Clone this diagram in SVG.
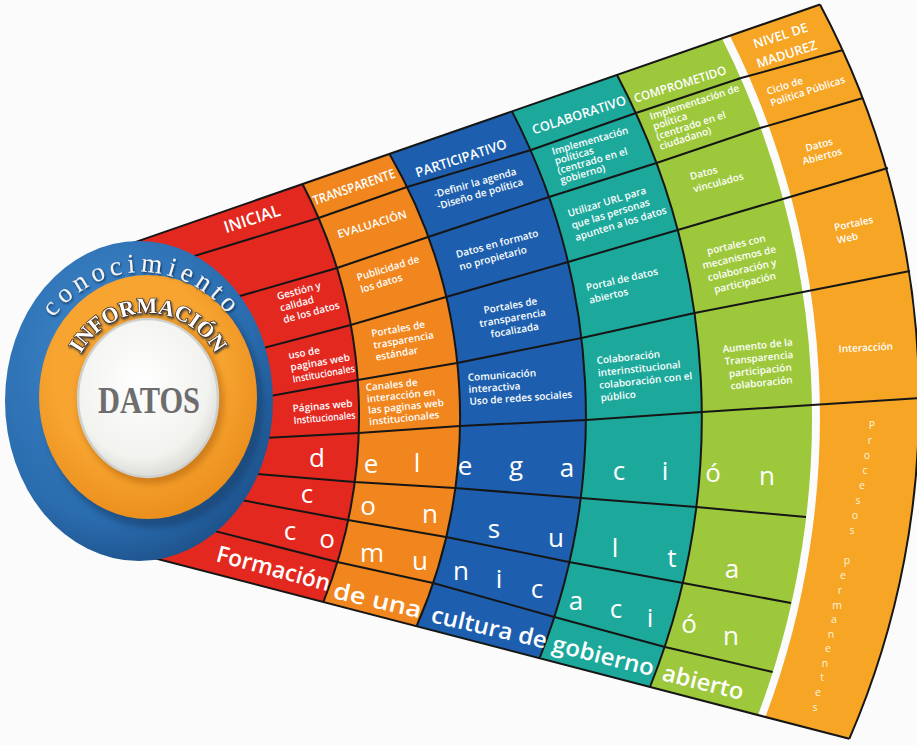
<svg xmlns="http://www.w3.org/2000/svg" width="917" height="745" viewBox="0 0 917 745">
<defs>
<style>
.ln{fill:none;stroke:#161616;stroke-width:2;stroke-linejoin:round}
.c{font-family:"Open Sans","Liberation Sans",sans-serif;font-weight:600;fill:#fff;font-size:10px}
.h{font-family:"Open Sans","Liberation Sans",sans-serif;font-weight:600;fill:#fff;text-anchor:middle}
.big{font-family:"Open Sans","Liberation Sans",sans-serif;font-weight:400;fill:#fff;font-size:26px;text-anchor:middle}
.form{font-family:"Open Sans","Liberation Sans",sans-serif;font-weight:600;fill:#fff;font-size:23px}
.pp{font-family:"Open Sans","Liberation Sans",sans-serif;font-weight:400;fill:#fff3dd;font-size:10.5px;text-anchor:middle}
.m{text-anchor:middle}
</style>
<radialGradient id="gBlue" cx="40%" cy="35%" r="70%"><stop offset="0" stop-color="#3f88cc"/><stop offset="0.75" stop-color="#2a6cae"/><stop offset="1" stop-color="#1c4f88"/></radialGradient>
<radialGradient id="gOr" cx="45%" cy="40%" r="65%"><stop offset="0.6" stop-color="#f7a431"/><stop offset="1" stop-color="#e88a18"/></radialGradient>
<radialGradient id="gWh" cx="45%" cy="40%" r="60%"><stop offset="0" stop-color="#ffffff"/><stop offset="0.8" stop-color="#f2f2ef"/><stop offset="1" stop-color="#dcdcd8"/></radialGradient>
<filter id="blur" x="-20%" y="-20%" width="140%" height="140%"><feGaussianBlur stdDeviation="3"/></filter>
<filter id="sh" x="-10%" y="-10%" width="120%" height="130%"><feDropShadow dx="1" dy="1.5" stdDeviation="0.8" flood-color="#0b2540" flood-opacity="0.85"/></filter>
<path id="arcK" d="M 26,401 A 116 129 0 0 1 258,401"/>
<path id="arcI" d="M 69,398 A 79 85 0 0 1 227,398"/>
</defs>
<rect width="917" height="745" fill="#fbfbfb"/>

<g id="col-inicial">
<path d="M120,247.4 L302.5,184 A504,504 0 0 1 323.4,602 L120,549.2 Z" fill="#e3281f"/>
<text class="h" font-size="16.5" transform="translate(252,219) rotate(-18)" y="5.5">INICIAL</text>
<text class="c" transform="translate(278,300) rotate(-15)"><tspan x="0" y="0">Gestión y</tspan><tspan x="0" dy="12">calidad</tspan><tspan x="0" dy="12">de los datos</tspan></text>
<text class="c" font-size="9" transform="translate(289,359) rotate(-10)"><tspan x="0" y="0">uso de</tspan><tspan x="0" dy="12">paginas web</tspan><tspan x="0" dy="12" textLength="63" lengthAdjust="spacingAndGlyphs">Institucionales</tspan></text>
<text class="c" font-size="9" transform="translate(293,412) rotate(-5)"><tspan x="0" y="0">Páginas web</tspan><tspan x="0" dy="12" textLength="62" lengthAdjust="spacingAndGlyphs">Institucionales</tspan></text>
</g>

<g id="col-transparente">
<path d="M302.5,184 L389.5,154 A525,525 0 0 1 416.5,626.3 L323.4,602 A504,504 0 0 0 302.5,184 Z" fill="#f0861d"/>
<text class="h" font-size="13" transform="translate(354,187) rotate(-19)" y="4.5" textLength="86" lengthAdjust="spacingAndGlyphs">TRANSPARENTE</text>
<text class="h" font-size="11" transform="translate(372,224) rotate(-17)" y="4" textLength="72" lengthAdjust="spacingAndGlyphs">EVALUACIÓN</text>
<text class="c" transform="translate(358,281) rotate(-17)"><tspan x="0" y="0">Publicidad de</tspan><tspan x="0" dy="12.5">los datos</tspan></text>
<text class="c" transform="translate(372,337) rotate(-10)"><tspan x="0" y="0">Portales de</tspan><tspan x="0" dy="12">trasparencia</tspan><tspan x="0" dy="12">estándar</tspan></text>
<text class="c" font-size="9" transform="translate(366,391) rotate(-6)"><tspan x="0" y="0">Canales de</tspan><tspan x="0" dy="11.5">interacción en</tspan><tspan x="0" dy="11.5">las paginas web</tspan><tspan x="0" dy="11.5">institucionales</tspan></text>
</g>

<g id="col-participativo">
<path d="M389.5,154 L512,111.4 A661,661 0 0 1 539.5,658.3 L416.5,626.3 A525,525 0 0 0 389.5,154 Z" fill="#1d5fae"/>
<text class="h" font-size="13.5" transform="translate(461,158) rotate(-18)" y="5" textLength="95" lengthAdjust="spacingAndGlyphs">PARTICIPATIVO</text>
<text class="c" transform="translate(435,198) rotate(-16)"><tspan x="0" y="0">-Definir la agenda</tspan><tspan x="0" dy="12">-Diseño de política</tspan></text>
<text class="c" transform="translate(457,258) rotate(-15)"><tspan x="0" y="0">Datos en formato</tspan><tspan x="0" dy="13">no propietario</tspan></text>
<text class="c m" transform="translate(511,309) rotate(-10)"><tspan x="0" y="0">Portales de</tspan><tspan x="0" dy="12.5">transparencia</tspan><tspan x="0" dy="12.5">focalizada</tspan></text>
<text class="c" transform="translate(468,381) rotate(-4)"><tspan x="0" y="0">Comunicación</tspan><tspan x="0" dy="12">interactiva</tspan><tspan x="0" dy="12">Uso de redes sociales</tspan></text>
</g>

<g id="col-colaborativo">
<path d="M512,111.4 L617,75 A731,731 0 0 1 650,687 L539.5,658.3 A661,661 0 0 0 512,111.4 Z" fill="#1ca99c"/>
<text class="h" font-size="13" transform="translate(579,115) rotate(-18)" y="4.5" textLength="98" lengthAdjust="spacingAndGlyphs">COLABORATIVO</text>
<text class="c" font-size="9" transform="translate(553,155) rotate(-16)"><tspan x="0" y="0">Implementación</tspan><tspan x="0" dy="10">políticas</tspan><tspan x="0" dy="10">(centrado en el</tspan><tspan x="0" dy="10">gobierno)</tspan></text>
<text class="c" transform="translate(569,217) rotate(-17)"><tspan x="0" y="0">Utilizar URL para</tspan><tspan x="0" dy="12.5">que las personas</tspan><tspan x="0" dy="12.5">apunten a los datos</tspan></text>
<text class="c" transform="translate(587,291) rotate(-13)"><tspan x="0" y="0">Portal de datos</tspan><tspan x="0" dy="13">abiertos</tspan></text>
<text class="c" transform="translate(597,364) rotate(-6)"><tspan x="0" y="0">Colaboración</tspan><tspan x="0" dy="12.5">interinstitucional</tspan><tspan x="0" dy="12.5">colaboración con el</tspan><tspan x="0" dy="12.5">público</tspan></text>
</g>

<g id="col-comprometido">
<path d="M617,75 L722,38.5 A844,844 0 0 1 758,715 L650,687 A731,731 0 0 0 617,75 Z" fill="#9dc83c"/>
<text class="h" font-size="12" transform="translate(680,84) rotate(-17.5)" y="4.5" textLength="96" lengthAdjust="spacingAndGlyphs">COMPROMETIDO</text>
<text class="c" font-size="9" transform="translate(651,120) rotate(-18)"><tspan x="0" y="0">Implementación de</tspan><tspan x="0" dy="10.5">política</tspan><tspan x="0" dy="10.5">(centrado en el</tspan><tspan x="0" dy="10.5">ciudadano)</tspan></text>
<text class="c" font-size="10.5" transform="translate(691,180) rotate(-15)"><tspan x="0" y="0">Datos</tspan><tspan x="0" dy="13">vinculados</tspan></text>
<text class="c m" font-size="10.5" transform="translate(737,248) rotate(-13)"><tspan x="0" y="0">portales con</tspan><tspan x="0" dy="13">mecanismos de</tspan><tspan x="0" dy="13">colaboración y</tspan><tspan x="0" dy="13">participación</tspan></text>
<text class="c m" font-size="10.5" transform="translate(758,349) rotate(-6)"><tspan x="0" y="0">Aumento de la</tspan><tspan x="0" dy="12.5">Transparencia</tspan><tspan x="0" dy="12.5">participación</tspan><tspan x="0" dy="12.5">colaboración</tspan></text>
</g>

<g id="col-nivel">
<path d="M730,36 L820,4.5 A847,847 0 0 1 849.3,738.8 L765.4,717 A852,852 0 0 0 730,36 Z" fill="#f6a524"/>
<text class="h" font-size="13" transform="translate(782,40) rotate(-18)"><tspan x="0" y="0">NIVEL DE</tspan><tspan x="0" dy="19.5">MADUREZ</tspan></text>
<text class="c" font-size="8.5" transform="translate(768,95) rotate(-18)"><tspan x="0" y="0">Ciclo de</tspan><tspan x="0" dy="12">Política Públicas</tspan></text>
<text class="c m" font-size="8.5" transform="translate(820,148) rotate(-15)"><tspan x="0" y="0">Datos</tspan><tspan x="0" dy="12">Abiertos</tspan></text>
<text class="c" font-size="8.5" transform="translate(835,231) rotate(-12)"><tspan x="0" y="0">Portales</tspan><tspan x="0" dy="13">Web</tspan></text>
<text class="c m" font-size="9" transform="translate(866,351) rotate(-3)">Interacción</text>
<text class="pp"><tspan x="872" y="429">P</tspan><tspan x="870" y="444">r</tspan><tspan x="867" y="459">o</tspan><tspan x="865" y="474">c</tspan><tspan x="862" y="489">e</tspan><tspan x="858" y="504">s</tspan><tspan x="855" y="519">o</tspan><tspan x="852" y="534">s</tspan><tspan x="847" y="564">p</tspan><tspan x="843" y="579">e</tspan><tspan x="840" y="594">r</tspan><tspan x="837" y="609">m</tspan><tspan x="834" y="623">a</tspan><tspan x="831" y="638">n</tspan><tspan x="828" y="652">e</tspan><tspan x="825" y="667">n</tspan><tspan x="822" y="681">t</tspan><tspan x="818" y="696">e</tspan><tspan x="815" y="711">s</tspan></text>
</g>

<g id="connectors">
<path class="ln" d="M120,247.4 L820,4.5"/>
<path class="ln" d="M120,549.2 L849.3,738.8"/>
<path class="ln" d="M302.5,184 A504,504 0 0 1 323.4,602"/>
<path class="ln" d="M389.5,154 A525,525 0 0 1 416.5,626.3"/>
<path class="ln" d="M512,111.4 A661,661 0 0 1 539.5,658.3"/>
<path class="ln" d="M617,75 A731,731 0 0 1 650,687"/>
<path class="ln" d="M820,4.5 A847,847 0 0 1 849.3,738.8"/>
<polyline class="ln" points="150,269.6 318.5,218 407,187 531,150 636,113 741,78 843,50"/>
<polyline class="ln" points="150,322 337,268 428,237 549,197 656.5,163 760,128 863,98"/>
<polyline class="ln" points="150,378 350.7,325 446,297 568,262 677.7,230 783,199 888,168"/>
<polyline class="ln" points="150,418 357.7,380 457,363 581.5,338 694.6,313 803,292 910,271"/>
<polyline class="ln" points="150,444 358.7,433 459.9,426 586,420 702,412 812,405 919,398"/>
<polyline class="ln" points="150,465 354.7,482 455,488 580.8,498 696.4,507 806,517"/>
<polyline class="ln" points="150,483 348,520 446,537 569,562 683,583 791,603"/>
<polyline class="ln" points="150,514.6 337.4,562 433,583 554.4,617 665,647 772.6,672"/>
</g>

<g id="row-words">
<text class="big"><tspan x="317" y="467">d</tspan><tspan x="371" y="473">e</tspan><tspan x="417" y="472">l</tspan><tspan x="465" y="475">e</tspan><tspan x="516" y="475">g</tspan><tspan x="567" y="477">a</tspan><tspan x="619" y="480">c</tspan><tspan x="665" y="480">i</tspan><tspan x="713" y="482">ó</tspan><tspan x="767" y="485">n</tspan></text>
<text class="big"><tspan x="307" y="503">c</tspan><tspan x="368" y="515">o</tspan><tspan x="430" y="523">n</tspan><tspan x="494" y="538">s</tspan><tspan x="556" y="547">u</tspan><tspan x="615" y="557">l</tspan><tspan x="672" y="567">t</tspan><tspan x="732" y="578">a</tspan></text>
<text class="big"><tspan x="290" y="540">c</tspan><tspan x="327" y="548">o</tspan><tspan x="372" y="562">m</tspan><tspan x="420" y="570">u</tspan><tspan x="461" y="580">n</tspan><tspan x="499" y="588">i</tspan><tspan x="537" y="598">c</tspan><tspan x="576" y="610">a</tspan><tspan x="616" y="618">c</tspan><tspan x="650" y="627">i</tspan><tspan x="689" y="633">ó</tspan><tspan x="731" y="645">n</tspan></text>
<text class="form" transform="translate(215,561) rotate(15)" textLength="117" lengthAdjust="spacingAndGlyphs">Formación</text>
<text class="form" transform="translate(332,598) rotate(13)" textLength="90" lengthAdjust="spacingAndGlyphs">de una</text>
<text class="form" transform="translate(430,622) rotate(13)" textLength="118" lengthAdjust="spacingAndGlyphs">cultura de</text>
<text class="form" transform="translate(551,651) rotate(14)" textLength="104" lengthAdjust="spacingAndGlyphs">gobierno</text>
<text class="form" transform="translate(661,680) rotate(14)" textLength="83" lengthAdjust="spacingAndGlyphs">abierto</text>
</g>

<g id="circle">
<ellipse cx="139" cy="401" rx="134" ry="160" fill="url(#gBlue)"/>
<ellipse cx="154" cy="405" rx="110" ry="123" fill="#123a66" opacity="0.55" filter="url(#blur)"/>
<ellipse cx="148" cy="397" rx="109" ry="122" fill="url(#gOr)"/>
<ellipse cx="151" cy="402" rx="73" ry="82" fill="#b8680c" opacity="0.6" filter="url(#blur)"/>
<ellipse cx="148" cy="398" rx="70" ry="79" fill="url(#gWh)" stroke="#cfcfcc" stroke-width="2.5"/>
<text font-family="Liberation Serif, serif" font-size="27" letter-spacing="5" fill="#f4f4f4" filter="url(#sh)"><textPath href="#arcK" startOffset="50%" text-anchor="middle">conocimiento</textPath></text>
<text font-family="Liberation Serif, serif" font-weight="bold" font-size="22" fill="#ffffff" stroke="#3a2612" stroke-width="1.3" paint-order="stroke" filter="url(#sh)"><textPath href="#arcI" startOffset="50%" text-anchor="middle">INFORMACIÓN</textPath></text>
<text x="149" y="413" font-family="Liberation Serif, serif" font-weight="bold" font-size="38" fill="#6d6d6d" text-anchor="middle" textLength="102" lengthAdjust="spacingAndGlyphs">DATOS</text>
</g>
</svg>
